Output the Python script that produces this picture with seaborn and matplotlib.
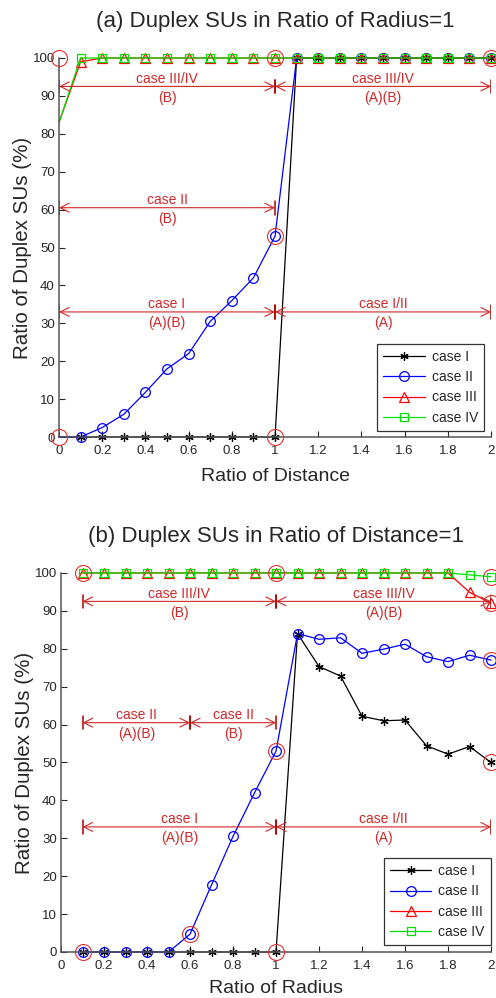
import matplotlib
matplotlib.use('Agg')
import matplotlib.pyplot as plt
import seaborn as sns

sns.set_style('ticks')
plt.rcParams['font.family'] = ['Liberation Sans', 'DejaVu Sans']

# (a) ratio of radius = 1, x axis = ratio of distance
dist = [0, 0.1, 0.2, 0.3, 0.4, 0.5, 0.6, 0.7, 0.8, 0.9, 1.0,
        1.1, 1.2, 1.3, 1.4, 1.5, 1.6, 1.7, 1.8, 1.9, 2.0]
a_case1 = [0, 0, 0, 0, 0, 0, 0, 0, 0, 0, 0,
           100, 100, 100, 100, 100, 100, 100, 100, 100, 100]
a_case2 = [0, 0, 2.5, 6, 11.8, 18, 22, 30.5, 36, 42, 53,
           100, 100, 100, 100, 100, 100, 100, 100, 100, 100]
a_case3 = [83, 99, 100, 100, 100, 100, 100, 100, 100, 100, 100,
           100, 100, 100, 100, 100, 100, 100, 100, 100, 100]
a_case4 = [83, 100, 100, 100, 100, 100, 100, 100, 100, 100, 100,
           100, 100, 100, 100, 100, 100, 100, 100, 100, 100]
a_circ_x = [0, 0, 1, 1, 1, 2]
a_circ_y = [0, 100, 0, 53, 100, 100]
a_spans = [(0, 1, 92.5, 'case III/IV', '(B)'),
           (1, 2, 92.5, 'case III/IV', '(A)(B)'),
           (0, 1, 60.5, 'case II', '(B)'),
           (0, 1, 33, 'case I', '(A)(B)'),
           (1, 2, 33, 'case I/II', '(A)')]

# (b) ratio of distance = 1, x axis = ratio of radius
rad = [0.1, 0.2, 0.3, 0.4, 0.5, 0.6, 0.7, 0.8, 0.9, 1.0,
       1.1, 1.2, 1.3, 1.4, 1.5, 1.6, 1.7, 1.8, 1.9, 2.0]
b_case1 = [0, 0, 0, 0, 0, 0, 0, 0, 0, 0,
           84, 75.3, 72.8, 62.2, 61, 61.2, 54.4, 52.2, 54.2, 50]
b_case2 = [0, 0, 0, 0, 0, 4.7, 17.7, 30.5, 42, 53,
           84, 82.5, 82.9, 78.8, 79.9, 81.2, 77.9, 76.6, 78.3, 77]
b_case3 = [100, 100, 100, 100, 100, 100, 100, 100, 100, 100,
           100, 100, 100, 100, 100, 100, 100, 100, 94.9, 92]
b_case4 = [100, 100, 100, 100, 100, 100, 100, 100, 100, 100,
           100, 100, 100, 100, 100, 100, 100, 100, 99.5, 99]
b_circ_x = [0.1, 0.1, 0.6, 1, 1, 1, 2, 2, 2, 2]
b_circ_y = [0, 100, 4.7, 0, 53, 100, 99, 92, 77, 50]
b_spans = [(0.1, 1, 92.5, 'case III/IV', '(B)'),
           (1, 2, 92.5, 'case III/IV', '(A)(B)'),
           (0.1, 0.6, 60.5, 'case II', '(A)(B)'),
           (0.6, 1, 60.5, 'case II', '(B)'),
           (0.1, 1, 33, 'case I', '(A)(B)'),
           (1, 2, 33, 'case I/II', '(A)')]

labels = ['case I', 'case II', 'case III', 'case IV']
colors = ['black', '#0000ff', '#ff0000', '#00e000']
markers = [(6, 2, 0), 'o', '^', 's']
msizes = [6, 7, 7, 6]
ann_col = '#d02828'
bar_col = '#b00000'


def draw_panel(ax, x, series, circ_x, circ_y, spans, title, xlabel, skip_first, xpad):
    for y, lab, col, mk, ms in zip(series, labels, colors, markers, msizes):
        every = slice(1, None) if skip_first else None
        sns.lineplot(x=x, y=y, ax=ax, color=col, lw=0.9, marker=mk, markersize=ms,
                     markeredgecolor=col, markerfacecolor='none',
                     markeredgewidth=0.9, markevery=every, label=lab,
                     estimator=None, sort=False, clip_on=False)
    ax.plot(circ_x, circ_y, 'o', ms=11.5, mfc='none', mec='#e03030', mew=0.8,
            clip_on=False, zorder=6)
    for x0, x1, yy, top, bot in spans:
        ax.annotate('', xy=(x1, yy), xytext=(x0, yy),
                    arrowprops=dict(arrowstyle='<->', color=ann_col, lw=0.8,
                                    shrinkA=0, shrinkB=0, mutation_scale=16))
        for xb in (x0, x1):
            ax.plot([xb, xb], [yy - 1.8, yy + 1.8], color=bar_col, lw=1.1)
        xm = (x0 + x1) / 2
        ax.text(xm, yy + 2.0, top, color=ann_col, fontsize=10, ha='center', va='center')
        ax.text(xm, yy - 3.0, bot, color=ann_col, fontsize=10, ha='center', va='center')

    ax.set_xlim(0, 2)
    ax.set_ylim(0, 100)
    ax.set_xticks([0, 0.2, 0.4, 0.6, 0.8, 1, 1.2, 1.4, 1.6, 1.8, 2])
    ax.set_xticklabels(['0', '0.2', '0.4', '0.6', '0.8', '1', '1.2', '1.4', '1.6', '1.8', '2'])
    ax.set_yticks(range(0, 101, 10))
    ax.tick_params(direction='in', length=4, width=0.8, labelsize=9.5,
                   colors='#262626')
    ax.tick_params(axis='x', pad=6)
    ax.tick_params(axis='y', pad=3)
    sns.despine(ax=ax)
    for s in ('left', 'bottom'):
        ax.spines[s].set_color('#555555')
        ax.spines[s].set_linewidth(1.1)
    ax.set_title(title, fontsize=16, pad=22)
    ax.set_xlabel(xlabel, fontsize=14, labelpad=xpad)
    ax.set_ylabel('Ratio of Duplex SUs (%)', fontsize=14.8, labelpad=0.5)
    leg = ax.legend(loc='lower right', fontsize=10, frameon=True, fancybox=False,
                    edgecolor='black', handlelength=3.0, borderaxespad=0,
                    labelspacing=0.45, borderpad=0.45, handletextpad=0.5)
    leg.get_frame().set_linewidth(0.9)
    return leg


fig = plt.figure(figsize=(4.96, 9.98), dpi=100)
ax1 = fig.add_axes([0.119, 0.5621, 0.871, 0.3798])
ax2 = fig.add_axes([0.123, 0.0461, 0.867, 0.3798])

leg1 = draw_panel(ax1, dist, [a_case1, a_case2, a_case3, a_case4], a_circ_x, a_circ_y,
                  a_spans, '(a) Duplex SUs in Ratio of Radius=1', 'Ratio of Distance',
                  True, 8)
leg1.set_bbox_to_anchor((0.984, 0.016))
leg2 = draw_panel(ax2, rad, [b_case1, b_case2, b_case3, b_case4], b_circ_x, b_circ_y,
                  b_spans, '(b) Duplex SUs in Ratio of Distance=1', 'Ratio of Radius',
                  False, 5.5)
leg2.set_bbox_to_anchor((1.0, 0.018))

fig.savefig('out.png', dpi=100)
